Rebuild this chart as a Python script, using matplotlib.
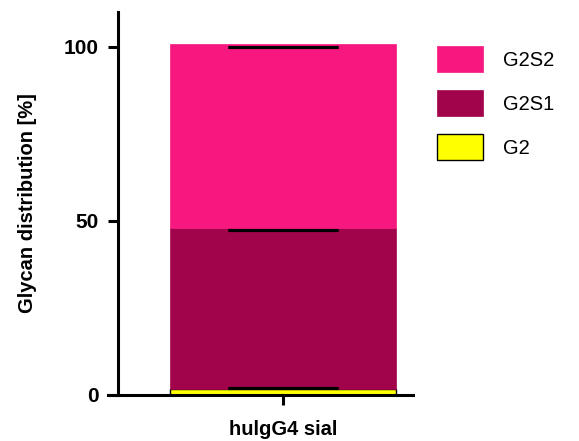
import numpy as np
import matplotlib
matplotlib.use("Agg")
import matplotlib.pyplot as plt

plt.rcParams['font.family'] = ['Liberation Sans', 'DejaVu Sans']

# stacked glycan fractions (%) for the one sample
sample = ["hulgG4 sial"]
glycans = ["G2", "G2S1", "G2S2"]
fractions = [1.7, 46.2, 53.0]
# mean lines drawn on each segment (cumulative %)
means = [2.0, 47.3, 100.0]
colors = ["#FFFF00", "#A1044B", "#F7187F"]

fig = plt.figure(figsize=(5.79, 4.41), dpi=100)
ax = fig.add_axes([118/579, 1-395/441, 295/579, 383/441])

x = np.arange(len(sample))
bottom = np.zeros(len(sample))
handles = []
for name, val, col in zip(glycans, fractions, colors):
    if name == "G2":
        b = ax.bar(x, val, width=1.0, bottom=bottom, color=col,
                   edgecolor="black", linewidth=1.0, label=name, zorder=2)
    else:
        b = ax.bar(x, val, width=1.0, bottom=bottom, color=col,
                   edgecolor=col, linewidth=0.5, label=name, zorder=2)
    handles.append(b)
    bottom = bottom + val

ax.errorbar(np.zeros(len(means)), means, yerr=0, fmt="none", ecolor="black",
            capsize=39.5, capthick=2.2, elinewidth=2.2, zorder=3)

ax.set_xlim(-0.727, 0.573)
ax.set_ylim(0, 110)
ax.set_yticks([0, 50, 100])
ax.set_xticks(x)
ax.set_xticklabels(sample, fontsize=14.5, fontweight="bold")
ax.tick_params(axis="y", labelsize=15, width=2.2, length=7.2, pad=6.5)
ax.tick_params(axis="x", width=2.2, length=7.2, pad=11)
for lab in ax.get_yticklabels():
    lab.set_fontweight("bold")

ax.set_ylabel("Glycan distribution [%]", fontsize=14.5, fontweight="bold")
ax.yaxis.set_label_coords(-0.275, 0.5)

for side in ["top", "right"]:
    ax.spines[side].set_visible(False)
for side in ["left", "bottom"]:
    ax.spines[side].set_linewidth(2.2)
ax.spines["bottom"].set_bounds(-0.727 - 10/227, 0.573)

leg = ax.legend(handles[::-1], glycans[::-1], loc="upper left",
                bbox_to_anchor=(437/579, 1-46/441), bbox_transform=fig.transFigure,
                frameon=False, fontsize=14.5, handlelength=2.3, handleheight=1.6,
                labelspacing=0.9, handletextpad=1.0, borderpad=0, borderaxespad=0)

fig.savefig("out.png", dpi=100)
